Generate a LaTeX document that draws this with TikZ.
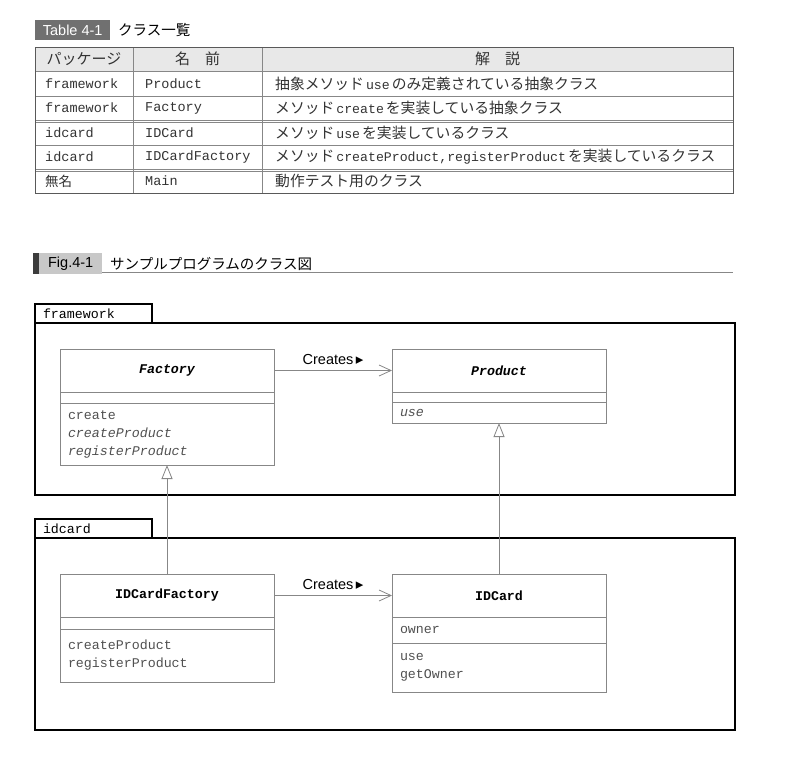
\documentclass[tikz,border=0pt]{standalone}
\usepackage{fontspec}
\setmainfont{Liberation Serif}
\setsansfont{Liberation Sans}
\setmonofont{Liberation Mono}
\newfontfamily\jp{Noto Sans CJK JP}
\newfontfamily\sym{DejaVu Sans}
\usetikzlibrary{arrows.meta,positioning}
\definecolor{linegray}{RGB}{135,135,135}
\definecolor{textgray}{RGB}{80,80,80}
\definecolor{cellgray}{RGB}{51,51,51}
\definecolor{headgray}{RGB}{232,232,232}
\definecolor{tagdark}{RGB}{112,112,112}
\definecolor{taglight}{RGB}{200,200,200}
\definecolor{bardark}{RGB}{60,60,60}
\newcommand{\mono}[1]{\hspace{2pt}{\fontsize{13.2}{16}\selectfont\ttfamily #1}\hspace{2pt}}

\begin{document}
\begin{tikzpicture}[x=1pt,y=-1pt,
  clsname/.style={draw=linegray,line width=0.8pt,outer sep=0pt,inner sep=0pt,minimum width=214pt,minimum height=43pt,font=\fontsize{13.3}{16}\selectfont\ttfamily\bfseries},
  clspart/.style={draw=linegray,line width=0.8pt,outer sep=0pt,inner xsep=8pt,inner ysep=1pt,minimum width=214pt,text width=198pt,align=left,text=textgray,font=\fontsize{13.3}{18}\selectfont\ttfamily},
  pkgtab/.style={draw,line width=1.5pt,outer sep=0pt,inner xsep=8pt,inner ysep=0pt,minimum height=19pt,text width=101pt,align=left,anchor=south west,font=\fontsize{13.3}{16}\selectfont\ttfamily},
  pkgbox/.style={draw,line width=1.5pt,outer sep=0pt,anchor=north west,minimum width=700pt},
  creates/.style={draw=linegray,line width=0.8pt,-{Straight Barb[length=12pt,width=11pt]}},
  inherit/.style={draw=linegray,line width=0.8pt,-{Triangle[open,length=14pt,width=11pt,fill=white]}},
  crlabel/.style={above=2pt,midway,text=black,font=\fontsize{14.5}{16}\selectfont\sffamily},
  cell/.style={anchor=west,inner sep=0pt,text=cellgray,font=\fontsize{13.5}{16}\selectfont\ttfamily},
  jcell/.style={anchor=west,inner sep=0pt,text=cellgray,font=\fontsize{14.8}{16}\selectfont\jp},
  head/.style={inner sep=0pt,text=cellgray,font=\fontsize{15}{16}\selectfont\jp},
  tag/.style={anchor=west,inner sep=0pt,minimum height=20pt,font=\fontsize{14.5}{16}\selectfont\sffamily}]
\useasboundingbox (0,0) rectangle (787,766);

% table 4-1
\node[tag,fill=tagdark,text=white,minimum width=75pt] (tabtag) at (35,30) {Table 4-1};
\node[anchor=west,inner sep=0pt,font=\fontsize{14.5}{16}\selectfont\jp] (tabtitle) at (118,30) {クラス一覧};
\fill[headgray] (35,47) rectangle (733,71);
\foreach \y in {71,96,120,122.5,145,169,171.5}{\draw[linegray,line width=0.8pt] (35,\y) -- (733,\y);}
\foreach \x in {133,262}{\draw[linegray,line width=0.8pt] (\x,47) -- (\x,193);}
\draw[black!65,line width=1pt] (35,47) rectangle (733,193);
\node[head] (hpkg) at (84,59) {パッケージ};
\node[head] (hname) at (197.5,59) {名　前};
\node[head] (hdesc) at (497.5,59) {解　説};
\foreach \i/\y/\p/\n in {1/84/framework/Product,2/108/framework/Factory,3/132.5/idcard/IDCard,4/157/idcard/IDCardFactory,5/181/{\jp 無名}/Main}{
  \node[cell] (pkg\i) at (45,\y) {\p};
  \node[cell] (name\i) at (145,\y) {\n};
}
\node[jcell] (desc1) at (275,84) {抽象メソッド\mono{use}のみ定義されている抽象クラス};
\node[jcell] (desc2) at (275,108) {メソッド\mono{create}を実装している抽象クラス};
\node[jcell] (desc3) at (275,132.5) {メソッド\mono{use}を実装しているクラス};
\node[jcell] (desc4) at (275,157) {メソッド\mono{createProduct,registerProduct}を実装しているクラス};
\node[jcell] (desc5) at (275,181) {動作テスト用のクラス};

% fig 4-1
\draw[linegray,line width=1.2pt] (35,272.5) -- (733,272.5);
\fill[bardark] (33,253) rectangle (39,274);
\node[tag,fill=taglight,text=black,minimum width=63pt,minimum height=21pt] (figtag) at (39,263.5) {Fig.4-1};
\node[anchor=west,inner sep=0pt,font=\fontsize{14.5}{16}\selectfont\jp] (figtitle) at (110,263.5) {サンプルプログラムのクラス図};

% packages
\node[pkgtab] (fwtab) at (35,323) {framework};
\node[pkgbox,minimum height=172pt] (fwbox) at (35,323) {};
\node[pkgtab] (idtab) at (35,538) {idcard};
\node[pkgbox,minimum height=192pt] (idbox) at (35,538) {};

% classes
\node[clsname] (fac) at (167,370.5) {\itshape Factory};
\node[clspart,minimum height=11pt,below=0pt of fac] (facattr) {};
\node[clspart,minimum height=62pt,below=0pt of facattr] (facop) {create\\\itshape createProduct\\registerProduct};
\node[clsname] (prod) at (499,370.5) {\itshape Product};
\node[clspart,minimum height=10pt,below=0pt of prod] (prodattr) {};
\node[clspart,minimum height=21pt,below=0pt of prodattr] (prodop) {\itshape use};
\node[clsname] (idf) at (167,595.5) {IDCardFactory};
\node[clspart,minimum height=12pt,below=0pt of idf] (idfattr) {};
\node[clspart,minimum height=53pt,below=0pt of idfattr] (idfop) {createProduct\\registerProduct};
\node[clsname] (idc) at (499,595.5) {IDCard};
\node[clspart,minimum height=26pt,below=0pt of idc] (idcattr) {owner};
\node[clspart,minimum height=49pt,below=0pt of idcattr] (idcop) {use\\getOwner};

% relations
\draw[creates] (fac.east) -- node[crlabel] {Creates\,{\sym\fontsize{15}{15}\selectfont ▸}} (prod.west);
\draw[creates] (idf.east) -- node[crlabel] {Creates\,{\sym\fontsize{15}{15}\selectfont ▸}} (idc.west);
\draw[inherit] (idf.north) -- (facop.south);
\draw[inherit] (idc.north) -- (prodop.south);
\end{tikzpicture}
\end{document}
